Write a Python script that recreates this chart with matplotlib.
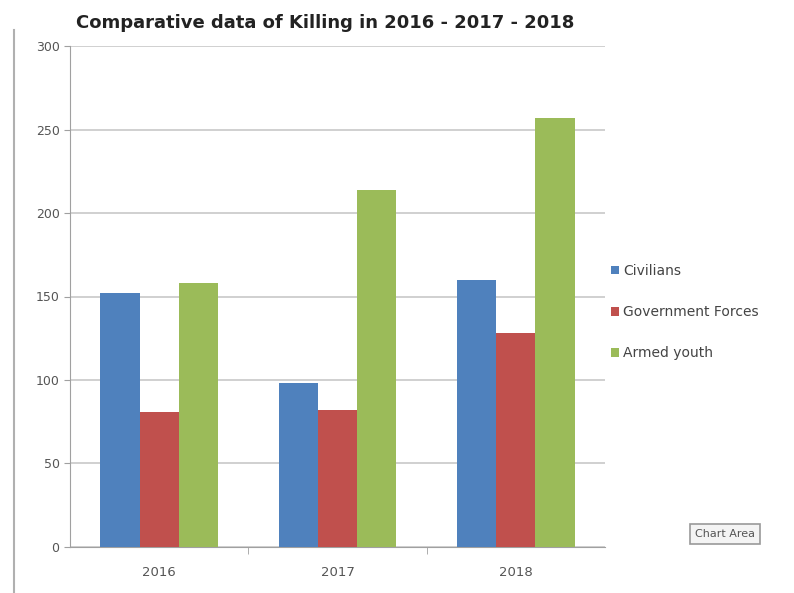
import matplotlib.pyplot as plt
import numpy as np
from matplotlib.lines import Line2D

years = ["2016", "2017", "2018"]
series_names = ["Civilians", "Government Forces", "Armed youth"]
civilians = [152, 98, 160]
government_forces = [81, 82, 128]
armed_youth = [158, 214, 257]
colors = ["#4F81BD", "#C0504D", "#9BBB59"]

fig = plt.figure(figsize=(7.94, 5.93), dpi=100)
ax = fig.add_axes([0.0882, 0.0776, 0.6738, 0.8448])

x = np.arange(len(years))
width = 0.22
for i, (vals, name, c) in enumerate(zip([civilians, government_forces, armed_youth], series_names, colors)):
    ax.bar(x + (i - 1) * width, vals, width, color=c, label=name, zorder=3)

ax.set_xlim(-0.5, 2.5)
ax.set_ylim(0, 300)
ax.set_yticks(range(0, 301, 50))
ax.set_xticks(x)
ax.set_xticklabels(years)
ax.set_xticks([0.5, 1.5], minor=True)
ax.grid(axis='y', color='#c8c8c8', linewidth=1.2, zorder=0)
ax.set_axisbelow(True)
for s in ['top', 'right']:
    ax.spines[s].set_visible(False)
ax.spines['left'].set_color('#a0a0a0')
ax.spines['bottom'].set_color('#a0a0a0')
ax.tick_params(axis='y', colors='#a0a0a0', labelcolor='#555555', labelsize=9, length=4)
ax.tick_params(axis='x', which='major', length=0, labelcolor='#555555', labelsize=9.5, pad=14)
ax.tick_params(axis='x', which='minor', length=5, color='#a0a0a0')

fig.text(0.41, 0.962, "Comparative data of Killing in 2016 - 2017 - 2018",
         ha='center', va='center', fontsize=13, fontweight='bold', color='#222222')

ax.legend(loc='center left', bbox_to_anchor=(0.995, 0.469), frameon=False,
          fontsize=10, handlelength=0.6, handleheight=0.6, handletextpad=0.3,
          labelspacing=1.95, labelcolor='#444444', borderaxespad=0.2)

fig.text(0.913, 0.0995, "Chart Area", ha='center', va='center', fontsize=8, color='#555555',
         bbox=dict(boxstyle='square,pad=0.45', fc='#f4f4f4', ec='#999999', lw=1.2))

fig.add_artist(Line2D([0.018, 0.018], [0.0, 0.95], color='#b0b0b0', lw=1.5))

fig.savefig("out.png", dpi=100)
